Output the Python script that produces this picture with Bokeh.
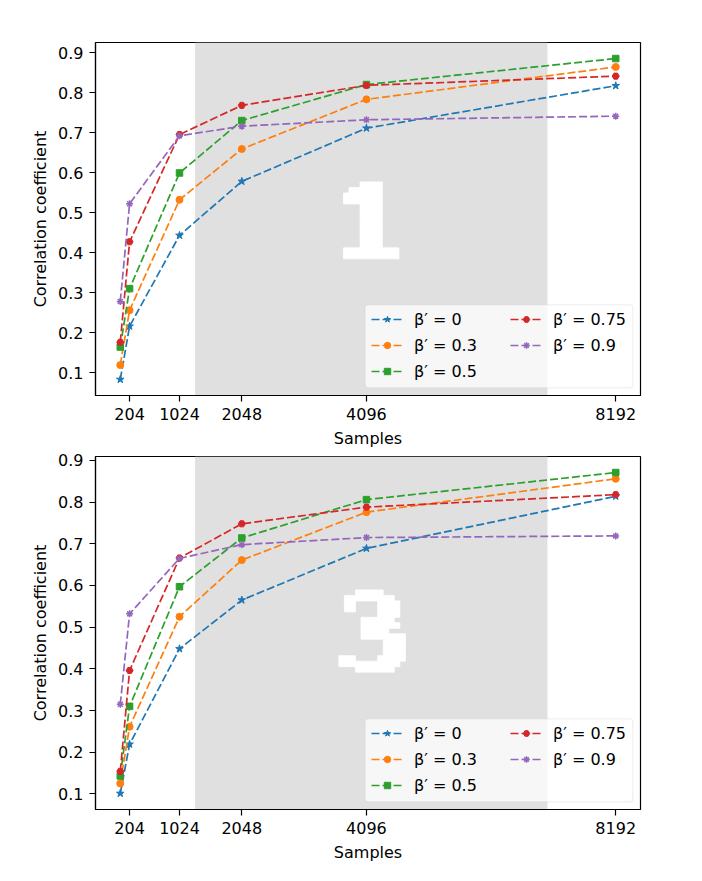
from bokeh.plotting import figure
from bokeh.models import FixedTicker, BoxAnnotation, Legend, LegendItem
from bokeh.layouts import column
from bokeh.embed import file_html
from bokeh.resources import INLINE

# ---------------- data ----------------
samples = [51, 204, 1024, 2048, 4096, 8192]
x_ticks = [204, 1024, 2048, 4096, 8192]
y_ticks = [0.1, 0.2, 0.3, 0.4, 0.5, 0.6, 0.7, 0.8, 0.9]
beta_labels = ["\u03b2\u2032 = 0", "\u03b2\u2032 = 0.3", "\u03b2\u2032 = 0.5",
               "\u03b2\u2032 = 0.75", "\u03b2\u2032 = 0.9"]

top_b0 = [0.083, 0.216, 0.443, 0.578, 0.711, 0.817]
top_b03 = [0.119, 0.256, 0.532, 0.659, 0.783, 0.864]
top_b05 = [0.164, 0.310, 0.599, 0.730, 0.820, 0.885]
top_b075 = [0.176, 0.427, 0.695, 0.768, 0.818, 0.841]
top_b09 = [0.278, 0.522, 0.692, 0.716, 0.732, 0.741]

bot_b0 = [0.101, 0.219, 0.448, 0.565, 0.689, 0.814]
bot_b03 = [0.125, 0.261, 0.525, 0.661, 0.776, 0.856]
bot_b05 = [0.143, 0.310, 0.597, 0.714, 0.806, 0.871]
bot_b075 = [0.154, 0.396, 0.666, 0.748, 0.788, 0.818]
bot_b09 = [0.315, 0.532, 0.665, 0.698, 0.715, 0.719]

# shaded sample window
shade_span = [1280, 7070]

# digit bitmaps (white pixels)
digit_one = [
    "...####...",
    ".######...",
    "#######...",
    "#######...",
    "...####...",
    "...####...",
    "...####...",
    "...####...",
    "...####...",
    "...####...",
    "...####...",
    "...####...",
    "##########",
    "##########",
]
digit_three = [
    "...#####....",
    ".#########..",
    ".##....####.",
    ".##....####.",
    ".......####.",
    "....######..",
    "....#######.",
    "....#####...",
    "....########",
    "........####",
    "........####",
    "........####",
    "###....#####",
    "###########.",
    "...#######..",
]
# extents (left, right, top, bottom) in data units
digit_one_box = (3718, 4630, 0.5766, 0.3844)
digit_three_box = (3642, 4736, 0.5893, 0.3921)

# ---------------- style / layout ----------------
colors = ["#1f77b4", "#ff7f0e", "#2ca02c", "#d62728", "#9467bd"]
markers = ["star", "circle", "square", "hex", "asterisk"]
msizes = [8, 7, 6.5, 7, 7]
FONT = "DejaVu Sans"
FS = "16px"
FW = 545
# legend frame, pixels from the frame's bottom-left corner
LEG_BOX = (269.7, 537.4, 7.7, 90.7)   # left, right, bottom, top
LEG1_POS = (276, 14)
LEG2_POS = (415, 40)


def padded(vals):
    lo, hi = min(vals), max(vals)
    m = 0.05 * (hi - lo)
    return lo - m, hi + m


def make_fig(series, bitmap, box, fh, border_top, border_bottom):
    allv = [v for s in series for v in s]
    xr = padded(samples)
    yr = padded(allv)
    p = figure(frame_width=FW, frame_height=fh,
               x_range=xr, y_range=yr,
               output_backend="svg", toolbar_location=None,
               min_border_left=95, min_border_right=20,
               min_border_top=border_top, min_border_bottom=border_bottom)
    p.xgrid.visible = False
    p.ygrid.visible = False
    p.outline_line_color = "black"
    p.outline_line_width = 1.2
    p.background_fill_color = "white"

    shade = BoxAnnotation(left=shade_span[0], right=shade_span[1],
                          fill_color="#e0e0e0", fill_alpha=1.0,
                          line_color=None, level="underlay")
    p.add_layout(shade)

    # digit drawn as pixel blocks
    x0, x1, yt, yb = box
    nr, nc = len(bitmap), len(bitmap[0])
    dx = (x1 - x0) / nc
    dy = (yt - yb) / nr
    L, R, T, B = [], [], [], []
    for r, row in enumerate(bitmap):
        c = 0
        while c < nc:
            if row[c] == "#":
                s = c
                while c < nc and row[c] == "#":
                    c += 1
                L.append(x0 + s * dx)
                R.append(x0 + c * dx)
                T.append(yt - r * dy)
                B.append(yt - (r + 1) * dy)
            else:
                c += 1
    p.quad(left=L, right=R, top=T, bottom=B, fill_color="white",
           line_color="white", line_width=0.8)

    items = []
    for vals, col, mk, ms, lab in zip(series, colors, markers, msizes, beta_labels):
        r1 = p.line(samples, vals, line_color=col, line_width=1.7,
                    line_dash="8 3")
        if mk == "asterisk":
            r2 = p.scatter(samples, vals, marker=mk, size=ms, line_color=col,
                           line_width=1.5)
        else:
            r2 = p.scatter(samples, vals, marker=mk, size=ms, fill_color=col,
                           line_color=col)
        items.append(LegendItem(label=lab, renderers=[r1, r2]))

    p.xaxis.ticker = FixedTicker(ticks=x_ticks)
    p.yaxis.ticker = FixedTicker(ticks=y_ticks)
    p.xaxis.axis_label = "Samples"
    p.yaxis.axis_label = "Correlation coefficient"
    for ax in (p.xaxis, p.yaxis):
        ax.major_label_text_font = FONT
        ax.major_label_text_font_size = FS
        ax.major_label_text_color = "black"
        ax.axis_label_text_font = FONT
        ax.axis_label_text_font_size = FS
        ax.axis_label_text_font_style = "normal"
        ax.axis_label_text_color = "black"
        ax.axis_line_color = "black"
        ax.axis_line_width = 1.2
        ax.major_tick_line_color = "black"
        ax.major_tick_line_width = 1.2
        ax.major_tick_in = 0
        ax.major_tick_out = 6
        ax.minor_tick_line_color = None
    p.xaxis.major_label_standoff = 6
    p.xaxis.axis_label_standoff = 6
    p.yaxis.major_label_standoff = 6
    p.yaxis.axis_label_standoff = 5

    # legend frame (converted from frame pixels to data units)
    def px2x(px):
        return xr[0] + px / FW * (xr[1] - xr[0])

    def px2y(py):
        return yr[0] + py / fh * (yr[1] - yr[0])

    lb = BoxAnnotation(left=px2x(LEG_BOX[0]), right=px2x(LEG_BOX[1]),
                       bottom=px2y(LEG_BOX[2]), top=px2y(LEG_BOX[3]),
                       fill_color="white", fill_alpha=0.75,
                       line_color="#cccccc", line_width=1.2, border_radius=3)
    p.add_layout(lb)

    for its, pos in ((items[:3], LEG1_POS), (items[3:], LEG2_POS)):
        lg = Legend(items=its, location=pos)
        lg.margin = 0
        lg.padding = 0
        lg.spacing = 6
        lg.glyph_width = 32
        lg.glyph_height = 16
        lg.label_height = 20
        lg.label_standoff = 11
        lg.label_text_font = FONT
        lg.label_text_font_size = FS
        lg.label_text_color = "black"
        lg.background_fill_alpha = 0
        lg.border_line_color = None
        p.add_layout(lg)
    return p


p1 = make_fig([top_b0, top_b03, top_b05, top_b075, top_b09],
              digit_one, digit_one_box, 353, 42, 52)
p2 = make_fig([bot_b0, bot_b03, bot_b05, bot_b075, bot_b09],
              digit_three, digit_three_box, 353, 6, 62)

layout = column(p1, p2)
open("out.html", "w").write(file_html(layout, INLINE))
